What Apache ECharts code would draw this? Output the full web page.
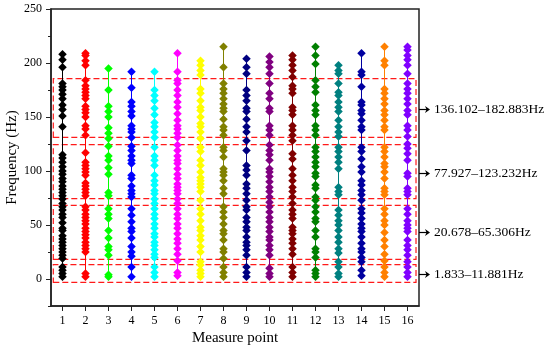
<!DOCTYPE html>
<html>
<head>
<meta charset="utf-8">
<script src="https://cdn.jsdelivr.net/npm/echarts@6/dist/echarts.min.js"></script>
<style>html,body{margin:0;padding:0;background:#fff;}#c{width:550px;height:352px;}</style>
</head>
<body>
<div id="c"></div>
<script>
// ---- data ----
const measurePoints = [1,2,3,4,5,6,7,8,9,10,11,12,13,14,15,16];
const yTickLabels = [0, 50, 100, 150, 200, 250];
const yMinorTicks = [-25, 25, 75, 125, 175, 225];

const p1 = [2,5,8,11,19,22,25,28,31,34,37,40,45,47,52,57,60,64,67,70,74,77,80,83,86,90,93,97,100,104,108,112,115,141,151,157,161,167,171,175,178,181,196,203,208];
const p2 = [2,5,25,28,31,34,38,41,44,47,51,54,57,60,64,67,77,80,83,86,89,96,99,102,105,108,117,133,139,142,150,154,157,160,167,170,173,176,179,184,198,202,207,209];
const p3 = [2,4,22,27,30,38,45,56,60,65,77,80,97,103,110,114,123,130,135,140,150,155,160,175,195];
const p4 = [2,11,21,25,30,38,44,47,53,59,65,76,79,82,86,93,96,107,110,114,119,123,131,136,139,142,151,155,160,164,177,192];
const p5 = [2,6,11,20,23,27,31,34,39,42,47,51,56,60,65,70,74,79,82,87,91,96,105,110,114,122,131,136,141,145,152,158,165,170,175,192];
const p6 = [3,6,17,23,28,33,37,42,47,51,56,60,65,70,74,79,82,85,88,93,97,102,107,110,114,119,124,131,135,139,142,147,153,159,164,170,175,181,184,192,209];
const p7 = [2,5,8,13,16,25,30,36,40,45,48,54,60,65,73,81,85,88,91,94,99,105,110,118,122,130,136,141,144,150,156,159,165,172,176,189,193,198,202];
const p8 = [2,6,11,19,25,28,36,42,45,51,57,62,67,79,84,91,96,99,102,113,119,122,133,138,141,148,155,158,162,167,172,176,181,196,215];
const p9 = [2,6,11,22,27,31,34,39,45,48,53,57,64,67,73,79,84,88,96,101,105,119,128,136,141,148,155,158,165,170,175,190,196,204];
const p10 = [2,5,10,22,27,31,36,39,44,48,53,57,62,67,71,76,81,85,90,95,99,102,110,115,119,124,133,138,142,155,158,167,172,181,190,196,201,206];
const p11 = [2,6,11,23,28,33,37,42,45,48,56,60,64,70,76,81,85,91,96,102,111,116,128,133,138,142,152,156,159,172,176,179,187,193,198,203,207];
const p12 = [2,5,8,20,25,28,39,45,53,56,62,67,73,76,84,87,95,98,104,108,113,118,122,133,138,142,152,156,161,173,178,184,199,207,215];
const p13 = [2,5,11,16,24,28,34,39,45,50,54,59,64,78,81,85,102,108,113,118,122,132,136,141,147,155,159,164,170,173,181,190,193,198];
const p14 = [3,8,16,20,25,28,33,39,44,47,51,56,61,65,73,78,82,87,91,99,104,111,118,122,138,141,147,153,156,161,164,178,189,192,209];
const p15 = [2,6,11,17,23,30,36,43,50,54,60,65,78,81,84,93,99,104,107,113,118,122,138,141,147,152,156,162,167,172,176,198,202,215];
const p16 = [2,6,11,16,22,27,31,36,44,47,50,54,60,65,78,81,84,95,98,110,116,121,125,132,138,142,152,156,162,167,172,176,181,190,198,203,207,212,215];
const pointValues = [p1,p2,p3,p4,p5,p6,p7,p8,p9,p10,p11,p12,p13,p14,p15,p16];

const colors = ['#000000','#FF0000','#00FF00','#0000FF','#00FFFF','#FF00FF','#FFFF00','#808000',
                '#000080','#800080','#800000','#008000','#008080','#0000A0','#FF8000','#8000FF'];

// frequency bands (dashed boxes) [low, high] and their x extent
const bandRanges = [[131.2,185.6],[74.4,124.4],[18.2,68.2],[-3.1,13.3]];
const bandX = [0.6, 16.37];
const bandArrowValues = [157.3, 98.5, 43.5, 4.3];
const bandLabels = ['136.102\u2013182.883Hz','77.927\u2013123.232Hz','20.678\u201365.306Hz','1.833\u201311.881Hz'];

const FONT = '"Liberation Serif","Times New Roman",serif';

const chart = echarts.init(document.getElementById('c'), null, {renderer:'canvas'});

const series = pointValues.map((vals, i) => {
  const s = {
    type: 'line',
    data: vals.map(v => [measurePoints[i], v]),
    symbol: 'diamond',
    symbolSize: 8.5,
    showSymbol: true,
    animation: false,
    lineStyle: {color: colors[i], width: 1},
    itemStyle: {color: colors[i], borderWidth: 0},
    z: 3
  };
  if (i === 0) {
    s.markArea = {
      silent: true,
      z: 1,
      itemStyle: {color: 'rgba(0,0,0,0)', borderColor: '#FF1A1A', borderWidth: 1.2, borderType: [6,3]},
      data: bandRanges.map(b => [{xAxis: bandX[0], yAxis: b[0]}, {xAxis: bandX[1], yAxis: b[1]}])
    };
  }
  return s;
});

const option = {
  animation: false,
  backgroundColor: '#fff',
  grid: {left: 51, right: 131, top: 9, bottom: 46, outerBoundsMode: 'none', containLabel: false,
         show: true, borderColor: '#222', borderWidth: 1.5, backgroundColor: 'transparent'},
  xAxis: {
    type: 'value', min: 0.5, max: 16.5,
    name: 'Measure point', nameLocation: 'middle', nameGap: 25, nameMoveOverlap: false,
    nameTextStyle: {fontFamily: FONT, fontSize: 15, color: '#000'},
    axisLine: {onZero: false, lineStyle: {color: '#222', width: 1.5}},
    axisTick: {show: true, inside: false, length: 5, customValues: measurePoints, lineStyle: {color: '#222', width: 1}},
    axisLabel: {customValues: measurePoints, margin: 9, fontFamily: FONT, fontSize: 12, color: '#000'},
    splitLine: {show: false}
  },
  yAxis: [{
    type: 'value', min: -25, max: 250, position: 'left',
    name: 'Frequency (Hz)', nameLocation: 'middle', nameGap: 31, nameMoveOverlap: false,
    nameTextStyle: {fontFamily: FONT, fontSize: 15, color: '#000'},
    axisLine: {onZero: false, lineStyle: {color: '#222', width: 1.5}},
    axisTick: {show: true, inside: false, length: 5, customValues: yTickLabels, lineStyle: {color: '#222', width: 1}},
    axisLabel: {customValues: yTickLabels, margin: 9, fontFamily: FONT, fontSize: 12, color: '#000'},
    splitLine: {show: false}
  }, {
    type: 'value', min: -25, max: 250, position: 'left',
    axisLine: {show: false, onZero: false},
    axisTick: {show: true, inside: false, length: 3, customValues: yMinorTicks, lineStyle: {color: '#222', width: 1}},
    axisLabel: {show: false},
    splitLine: {show: false}
  }],
  series: series
};
chart.setOption(option);

// arrows and band labels placed with the axis scale
const xRight = chart.convertToPixel({xAxisIndex: 0}, 16.5);
const graphics = [];
bandArrowValues.forEach((v, i) => {
  const y = Math.round(chart.convertToPixel({yAxisIndex: 0}, v)) + 0.5;
  graphics.push({type: 'line', shape: {x1: xRight, y1: y, x2: xRight + 9, y2: y}, style: {stroke: '#000', lineWidth: 1.2}});
  graphics.push({type: 'polygon', shape: {points: [[xRight + 6, y - 3.5], [xRight + 11, y], [xRight + 6, y + 3.5], [xRight + 7.5, y]]}, style: {fill: '#000'}});
  graphics.push({type: 'text', x: xRight + 15, y: y, style: {text: bandLabels[i], font: '13.5px ' + FONT, fill: '#000', textVerticalAlign: 'middle', verticalAlign: 'middle'}});
});
chart.setOption({graphic: graphics});
</script>
</body>
</html>
